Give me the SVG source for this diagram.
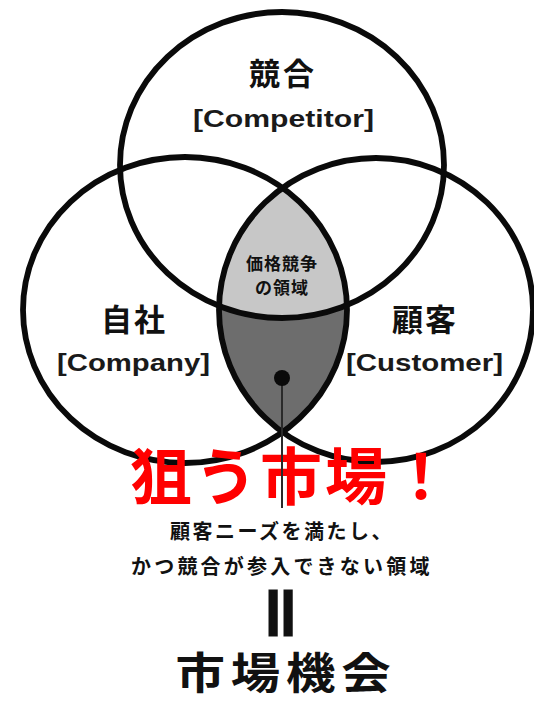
<svg xmlns="http://www.w3.org/2000/svg" width="534" height="702" viewBox="0 0 534 702">
  <style>
    .ring { fill: none; stroke: #0a0a0a; stroke-width: 5.8; }
    .jp { font-family: "Noto Sans CJK JP", "Noto Sans", sans-serif; font-weight: 700; fill: #111; }
    .en { font-family: "Liberation Sans", Arial, sans-serif; font-weight: 700; fill: #1a1a1a; }
    .red { font-family: "Noto Sans CJK JP", sans-serif; font-weight: 700; fill: #ff0000; }
  </style>
  <defs>
    <clipPath id="clipLeft"><ellipse cx="185" cy="310" rx="162" ry="153"/></clipPath>
    <clipPath id="clipRight"><ellipse cx="376" cy="310" rx="157" ry="152"/></clipPath>
  </defs>
  <rect x="0" y="0" width="534" height="702" fill="#ffffff"/>

  <g id="fills">
    <g clip-path="url(#clipRight)">
      <ellipse cx="185" cy="310" rx="162" ry="153" fill="#6d6d6d"/>
    </g>
    <g clip-path="url(#clipRight)">
      <g clip-path="url(#clipLeft)">
        <ellipse cx="282" cy="165" rx="162" ry="153" fill="#c7c7c7"/>
      </g>
    </g>
  </g>

  <g id="node-competitor">
    <ellipse class="ring" cx="282" cy="165" rx="162" ry="153"/>
    <text class="jp" x="283" y="85" font-size="31" text-anchor="middle" letter-spacing="3">競合</text>
    <text class="en" x="193" y="127" font-size="24" textLength="181" lengthAdjust="spacingAndGlyphs">[Competitor]</text>
  </g>

  <g id="node-company">
    <ellipse class="ring" cx="185" cy="310" rx="162" ry="153"/>
    <text class="jp" x="134" y="331" font-size="31" text-anchor="middle" letter-spacing="2">自社</text>
    <text class="en" x="57" y="371" font-size="23" textLength="153" lengthAdjust="spacingAndGlyphs">[Company]</text>
  </g>

  <g id="node-customer">
    <ellipse class="ring" cx="376" cy="310" rx="157" ry="152"/>
    <text class="jp" x="425" y="331" font-size="31" text-anchor="middle" letter-spacing="2">顧客</text>
    <text class="en" x="346" y="371" font-size="23" textLength="157" lengthAdjust="spacingAndGlyphs">[Customer]</text>
  </g>

  <g id="node-price">
    <text class="jp" x="282" y="270" font-size="17" text-anchor="middle" fill="#1a1a1a" letter-spacing="1">価格競争</text>
    <text class="jp" x="282" y="294" font-size="17" text-anchor="middle" fill="#1a1a1a" letter-spacing="1">の領域</text>
  </g>

  <g id="node-target">
    <text class="red" x="130" y="500" font-size="62" letter-spacing="3">狙う市場！</text>
  </g>

  <g id="connectors">
    <line x1="282" y1="378" x2="282" y2="508" stroke="#2a2a2a" stroke-width="2"/>
    <circle cx="282" cy="378" r="8" fill="#0a0a0a"/>
  </g>

  <g id="node-description">
    <text class="jp" x="170" y="539" font-size="20" letter-spacing="2.5">顧客ニーズを満たし、</text>
    <text class="jp" x="131" y="574" font-size="20" letter-spacing="3.2">かつ競合が参入できない領域</text>
  </g>

  <g id="node-opportunity">
    <text class="jp" x="283" y="613" font-size="62" text-anchor="middle" dominant-baseline="central" transform="rotate(90 283 613)" font-weight="900" stroke="#111" stroke-width="3">＝</text>
    <text class="jp" transform="translate(286 689) scale(1.15 1)" x="0" y="0" font-size="43" text-anchor="middle" font-weight="900" letter-spacing="5">市場機会</text>
  </g>
</svg>
